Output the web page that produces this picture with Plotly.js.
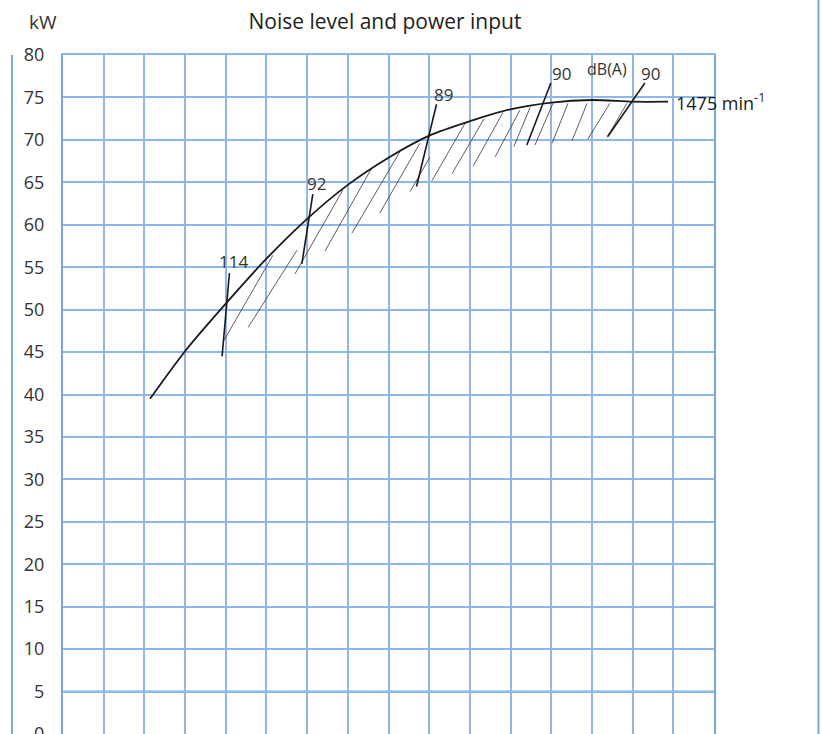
<!DOCTYPE html>
<html>
<head>
<meta charset="utf-8">
<script src="https://cdn.plot.ly/plotly-3.0.1.min.js"></script>
<style>
html,body{margin:0;padding:0;overflow:hidden;background:#fff;}
#chart{width:822px;height:780px;}
</style>
</head>
<body>
<div id="chart"></div>
<script>
// Power curve at 1475 min^-1 (x in grid units, y in kW)
const curveX = [2.14, 3, 4, 5, 6, 7, 8, 9, 10, 11, 12, 13, 14, 14.87];
const curveY = [39.5, 45.1, 50.7, 56.0, 60.7, 64.7, 67.9, 70.5, 72.2, 73.6, 74.4, 74.7, 74.5, 74.5];

// Noise level markers (dB(A))
const noiseLabels = ["114", "92", "89", "90", "90"];
const noiseTopX = [4.09, 6.14, 9.18, 11.99, 14.30];
const noiseTopY = [54.3, 63.6, 74.2, 76.7, 76.7];
const noiseBotX = [3.91, 5.87, 8.69, 11.40, 13.39];
const noiseBotY = [44.5, 55.4, 64.5, 69.4, 70.4];
const labelX = [4.18, 6.24, 9.34, 12.24, 14.45];
const labelY = [55.7, 64.9, 75.4, 77.8, 77.8];

// Hatching under the curve (bottom -> top of each stroke)
const hatchX0 = [3.96, 4.55, 5.70, 6.44, 7.10, 7.79, 8.53, 9.07, 9.56, 10.08, 10.62, 11.08, 11.60, 12.02, 12.51, 12.90, 13.37];
const hatchY0 = [46.4, 47.9, 54.2, 56.9, 59.0, 61.4, 63.9, 65.2, 66.0, 66.9, 68.0, 69.2, 69.4, 69.6, 69.9, 70.1, 70.3];
const hatchX1 = [5.16, 5.75, 6.88, 7.59, 8.28, 8.77, 9.02, 9.90, 10.35, 10.81, 11.23, 11.48, 12.04, 12.41, 12.88, 13.44, 13.86];
const hatchY1 = [56.4, 57.0, 64.1, 66.7, 68.6, 69.6, 68.0, 72.1, 72.5, 73.2, 73.5, 73.8, 74.3, 74.3, 74.3, 74.3, 74.3];

const yTicks = [0, 5, 10, 15, 20, 25, 30, 35, 40, 45, 50, 55, 60, 65, 70, 75, 80];
const xGrid = [0, 1, 2, 3, 4, 5, 6, 7, 8, 9, 10, 11, 12, 13, 14, 15, 16];

const speedLabel = "1475 min<sup>-1</sup>";
const unitLabel = "dB(A)";
const yUnit = "kW";
const titleText = "Noise level and power input";

// build segment traces
function segs(x0, y0, x1, y1) {
  const xs = [], ys = [];
  for (let i = 0; i < x0.length; i++) {
    xs.push(x0[i], x1[i], null);
    ys.push(y0[i], y1[i], null);
  }
  return {xs, ys};
}
const h = segs(hatchX0, hatchY0, hatchX1, hatchY1);
const n = segs(noiseBotX, noiseBotY, noiseTopX, noiseTopY);

const grid = '#8cb7e6';
const txt = '#333333';
const FONT = 'Open Sans, Noto Sans, sans-serif';

const traces = [
  {x: h.xs, y: h.ys, mode: 'lines', line: {color: '#333', width: 0.8}, hoverinfo: 'skip', showlegend: false},
  {x: n.xs, y: n.ys, mode: 'lines', line: {color: '#1a1a1a', width: 1.6}, hoverinfo: 'skip', showlegend: false},
  {x: curveX, y: curveY, mode: 'lines', line: {color: '#1a1a1a', width: 1.8, shape: 'spline', smoothing: 0.8}, hoverinfo: 'skip', showlegend: false}
];

const annotations = noiseLabels.map((t, i) => ({
  x: labelX[i], y: labelY[i], xref: 'x', yref: 'y', text: t, showarrow: false,
  xanchor: 'center', yanchor: 'middle', font: {family: FONT, size: 17, color: txt}
}));
annotations.push({x: 13.37, y: 78.4, xref: 'x', yref: 'y', text: unitLabel, showarrow: false,
  xanchor: 'center', yanchor: 'middle', font: {family: FONT, size: 16, color: txt}});
annotations.push({x: curveX[curveX.length - 1] + 0.14, y: curveY[curveY.length - 1], xref: 'x', yref: 'y', text: speedLabel, showarrow: false,
  xanchor: 'left', yanchor: 'middle', font: {family: FONT, size: 18, color: '#1a1a1a'}});
annotations.push({x: -0.031, y: 1.0486, xref: 'paper', yref: 'paper', text: yUnit, showarrow: false,
  xanchor: 'center', yanchor: 'middle', font: {family: FONT, size: 19, color: txt}});

const layout = {
  width: 822, height: 780,
  margin: {l: 63, r: 108, t: 55, b: 46, pad: 0},
  paper_bgcolor: '#fff', plot_bgcolor: '#fff',
  title: {text: titleText, x: 0.4946, xref: 'paper', xanchor: 'center', y: 0.972, yref: 'container', yanchor: 'middle',
    font: {family: FONT, size: 21, color: '#222'}},
  xaxis: {range: [0, 16], tickvals: xGrid, showticklabels: false, showgrid: true, gridcolor: grid, gridwidth: 2,
    zeroline: false, showline: true, linecolor: grid, linewidth: 2, mirror: true, ticks: '', fixedrange: true},
  yaxis: {range: [0, 80], tickvals: yTicks, showgrid: true, gridcolor: grid, gridwidth: 2, zeroline: false,
    showline: true, linecolor: '#76a6dc', linewidth: 2, mirror: true, ticks: 'outside', ticklen: 13, tickcolor: 'rgba(0,0,0,0)',
    tickfont: {family: FONT, size: 18, color: txt}, fixedrange: true},
  shapes: [
    {type: 'line', xref: 'paper', yref: 'paper', x0: -0.0783, x1: -0.0783, y0: -0.1, y1: 1, line: {color: '#7aa8dd', width: 2}},
    {type: 'line', xref: 'paper', yref: 'paper', x0: 1.1605, x1: 1.1605, y0: -0.1, y1: 1.1, line: {color: '#7aa8dd', width: 2}},
    {type: 'line', xref: 'paper', yref: 'y', x0: 0, x1: 1, y0: yTicks[1], y1: yTicks[1], line: {color: '#7eaddf', width: 2.3}, layer: 'below'}
  ],
  annotations: annotations
};

Plotly.newPlot('chart', traces, layout, {displayModeBar: false, staticPlot: true});
</script>
</body>
</html>
